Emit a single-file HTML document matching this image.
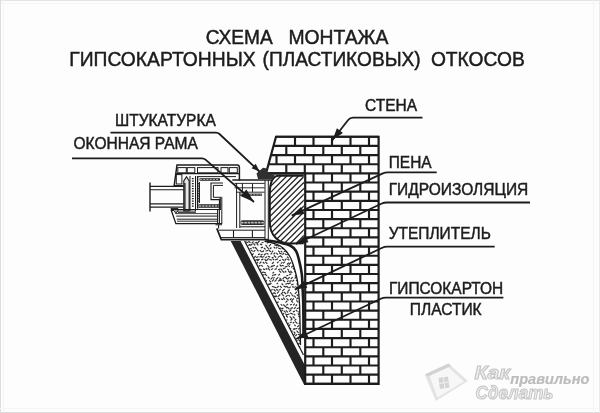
<!DOCTYPE html>
<html><head><meta charset="utf-8"><style>
html,body{margin:0;padding:0;background:#fdfdfd;}
body{width:600px;height:413px;overflow:hidden;font-family:"Liberation Sans",sans-serif;}
svg{display:block;} svg{filter:grayscale(1) blur(0.3px);}
</style></head><body>
<svg width="600" height="413" viewBox="0 0 600 413" font-family="Liberation Sans, sans-serif"><rect width="600" height="413" fill="#fdfdfd"/><rect x="0" y="0" width="600" height="1" fill="#e4e4e4"/><rect x="0" y="3" width="600" height="1" fill="#f5f5f5"/><rect x="0" y="0" width="1" height="413" fill="#dedede"/><rect x="3" y="0" width="1" height="413" fill="#f4f4f4"/><rect x="0" y="412" width="600" height="1" fill="#dcdcdc"/><rect x="0" y="408" width="600" height="1" fill="#f6f6f6"/><rect x="593" y="0" width="1" height="413" fill="#f3f3f3"/><rect x="599" y="0" width="1" height="413" fill="#ebebeb"/><g><path d="M424.8,374.4 L448.5,363.5 L467.9,381 L435.8,401 Z" fill="#e3e3e3"/><path d="M424.8,374.4 L448.5,363.5 L451,366 L428.5,376.5 Z" fill="#d2d2d2"/><path d="M429.5,376 L448.5,367.2 L464,381.5 L437.5,397.5 Z" fill="#f7f7f7"/><path d="M438.5,378 L448,376.5 L449.5,387.5 L440,389 Z" fill="#d4d4d4"/><path d="M443.3,377.2 L444.8,388.2 M439.2,383.5 L448.8,382" stroke="#f2f2f2" stroke-width="1"/><text x="474.43" y="379.30" font-size="18.5" font-weight="bold" font-style="italic" textLength="35.71" lengthAdjust="spacingAndGlyphs" fill="#eeeeee" stroke="#c4c4c4">Как</text><text x="510.25" y="384.40" font-size="14" font-weight="bold" font-style="italic" textLength="79.12" lengthAdjust="spacingAndGlyphs" fill="#bcbcbc" stroke="#bcbcbc" stroke-width="0.2" >правильно</text><text x="475.57" y="398.50" font-size="18.5" font-weight="bold" font-style="italic" textLength="77.94" lengthAdjust="spacingAndGlyphs" fill="#eeeeee" stroke="#c4c4c4">Сделать</text></g><clipPath id="insclip"><path d="M245,240.9 C248.33,240.92 259.83,240.48 265,241 C270.17,241.52 273.00,242.83 276,244 C279.00,245.17 280.83,246.17 283,248 C285.17,249.83 287.33,252.33 289,255 C290.67,257.67 291.58,259.60 293,264 C294.42,268.40 296.40,274.57 297.5,281.4 C298.60,288.23 299.10,294.07 299.6,305 C300.10,315.93 300.35,340.00 300.5,347 L299.5,348 Z"/></clipPath><path d="M238.2,235.6l-1.7,1.7M240.0,235.0l1.9,0.7M243.3,234.6l1.6,1.6M248.1,234.4l-1.9,1.9M248.2,235.4l2.2,2.2M254.0,235.1l-1.9,1.9M255.2,234.9l1.9,1.9M258.2,235.0l1.9,1.9M261.7,234.9l1.8,1.8M265.6,235.1l-2.0,2.0M266.7,235.7l2.0,2.0M271.6,235.8l-1.6,1.6M275.1,236.0l-2.0,0.7M276.1,235.1l2.0,2.0M278.9,235.1l2.2,2.2M284.2,235.8l-2.2,0.8M287.4,234.9l-2.3,0.8M290.0,234.6l-1.9,1.9M292.9,236.1l-2.2,0.8M295.6,234.6l-1.8,1.8M296.8,235.4l2.2,0.8M240.5,237.5l-1.5,1.5M242.6,238.1l-1.6,1.6M243.9,239.1l2.2,0.8M253.0,239.0l-1.9,0.7M258.2,238.1l-1.8,1.8M260.8,237.8l-1.5,1.5M262.8,238.3l1.5,1.5M268.6,237.4l2.2,2.2M271.5,237.5l1.9,1.9M276.1,237.6l-1.8,1.8M280.0,238.1l-2.2,0.8M280.6,239.2l2.3,0.8M283.9,238.2l2.2,2.2M286.2,237.5l2.2,2.2M289.0,239.0l2.3,0.8M300.1,238.0l-2.0,2.0M301.8,237.8l2.3,2.3M303.9,239.1l3.0,1.1M244.7,241.0l-1.5,1.5M245.6,241.7l2.8,1.0M248.4,240.8l2.1,2.1M253.5,241.5l-1.8,1.8M257.0,242.2l-2.3,0.8M259.5,241.0l-2.3,2.3M263.5,242.3l-2.0,0.7M264.3,240.6l1.5,1.5M269.3,242.1l-2.6,1.0M271.7,240.6l-2.1,2.1M274.8,241.0l-2.1,2.1M275.7,240.8l2.2,2.2M279.4,241.6l2.4,0.9M282.3,241.9l2.5,0.9M286.7,241.5l-1.6,1.6M288.0,241.0l2.0,2.0M290.6,241.0l1.9,0.7M296.3,241.6l-1.9,1.9M296.7,241.0l3.0,1.1M299.7,242.2l2.5,0.9M303.5,240.5l2.2,2.2M240.2,243.6l-1.5,1.5M241.4,243.7l1.6,1.6M246.6,244.2l-2.6,0.9M249.9,244.1l-1.6,1.6M252.4,244.4l-2.8,1.0M253.4,243.5l1.8,1.8M256.5,243.4l1.9,1.9M260.0,244.1l2.2,0.8M265.4,244.8l1.5,1.5M271.0,244.2l-2.1,2.1M274.1,244.7l2.9,1.1M277.0,244.5l2.1,2.1M280.9,243.4l2.0,2.0M286.4,244.2l1.8,1.8M294.5,244.9l-1.5,1.5M300.0,243.9l-1.6,1.6M301.8,243.8l1.8,1.8M304.1,244.3l1.4,1.4M241.6,247.3l-2.2,2.2M245.5,247.7l-1.9,1.9M247.9,247.3l-2.2,2.2M251.7,248.3l-2.0,0.7M252.6,246.9l1.5,1.5M254.8,247.0l2.0,2.0M263.0,247.1l-2.2,0.8M263.9,247.8l1.7,1.7M266.6,246.7l2.2,2.2M271.4,247.5l-1.5,1.5M273.7,246.8l1.5,1.5M277.4,246.9l-1.4,1.4M278.1,248.0l2.8,1.0M281.6,248.3l2.3,0.8M286.8,248.0l-2.6,0.9M288.0,248.0l2.6,0.9M290.7,247.9l2.7,1.0M296.8,247.8l-2.5,0.9M298.1,247.4l-1.5,1.5M305.1,247.2l-1.9,1.9M240.3,249.6l-1.6,1.6M247.9,250.3l2.0,0.7M251.1,249.8l1.6,1.6M255.3,250.1l-1.8,1.8M256.7,249.4l1.9,1.9M259.8,250.2l2.0,2.0M263.9,250.5l-1.5,1.5M268.0,250.3l-2.4,0.9M268.4,249.6l2.3,2.3M273.2,250.7l-1.4,1.4M278.2,250.7l1.7,1.7M280.8,250.9l1.5,1.5M286.3,250.8l-2.5,0.9M287.9,250.8l-1.7,1.7M290.8,249.9l-1.7,1.7M293.1,250.8l1.4,1.4M298.1,249.7l-2.0,2.0M300.9,249.5l-1.7,1.7M304.0,250.4l1.7,1.7M238.5,253.2l-1.6,1.6M239.9,252.3l2.1,2.1M245.7,253.0l-2.2,2.2M245.8,253.1l2.2,2.2M249.7,253.2l1.8,1.8M253.6,253.5l-1.7,1.7M260.1,253.8l-2.1,0.8M262.6,254.2l-2.1,0.8M265.7,253.5l-1.8,1.8M266.4,253.4l2.1,0.8M272.3,252.7l-1.7,1.7M275.2,252.7l-1.7,1.7M276.2,252.9l1.8,1.8M279.2,253.1l2.6,0.9M284.1,253.0l-1.7,1.7M285.1,253.6l1.5,1.5M287.2,254.2l2.4,0.9M295.8,252.3l-2.2,2.2M296.0,253.9l3.0,1.1M302.1,252.6l-1.5,1.5M302.7,253.2l2.9,1.1M238.5,256.4l1.9,1.9M241.7,255.9l1.9,1.9M244.6,257.4l1.9,0.7M248.1,256.0l2.0,2.0M252.1,256.5l-1.4,1.4M255.7,256.0l-1.8,1.8M258.5,256.6l-2.4,0.9M261.9,256.1l-2.4,0.9M264.3,256.5l-2.8,1.0M266.9,256.6l-1.6,1.6M267.8,256.2l2.4,0.9M273.6,257.2l-1.9,0.7M273.9,255.3l2.2,2.2M279.7,255.8l-1.8,1.8M280.2,255.5l2.2,2.2M287.0,256.6l1.7,1.7M292.5,256.1l1.4,1.4M300.7,255.9l-1.7,1.7M301.7,256.1l1.5,1.5M236.9,259.2l2.0,2.0M241.7,258.8l-2.7,1.0M243.5,259.7l1.6,1.6M246.8,258.5l1.7,1.7M250.8,258.9l-2.2,0.8M253.9,259.9l-2.9,1.1M258.1,259.3l-3.0,1.1M259.5,258.9l-2.1,2.1M263.4,259.1l-2.2,0.8M264.5,259.2l1.8,1.8M268.7,258.4l-2.1,2.1M269.3,259.4l2.5,0.9M272.6,258.6l1.6,1.6M278.0,258.9l-3.0,1.1M281.1,260.0l-2.1,0.8M282.3,259.0l1.7,1.7M286.5,258.7l-1.8,1.8M287.3,259.3l2.1,0.8M291.4,259.8l2.1,0.8M298.7,258.8l-2.2,2.2M299.6,259.3l1.6,1.6M304.9,259.4l-2.2,2.2M238.7,261.3l2.1,2.1M243.4,262.3l-2.6,0.9M246.0,262.2l-2.3,2.3M250.4,262.3l1.8,1.8M253.5,261.3l2.1,2.1M258.0,262.1l-2.0,2.0M261.4,261.7l-2.0,2.0M262.8,262.0l1.7,1.7M265.4,261.9l2.0,2.0M273.8,262.0l-1.8,1.8M278.6,261.7l-1.5,1.5M282.4,262.1l-1.5,1.5M284.9,261.7l-1.7,1.7M288.8,262.7l-1.8,1.8M290.9,262.5l-2.1,2.1M291.9,263.0l2.9,1.1M298.0,262.2l-2.0,2.0M300.1,261.5l-2.1,2.1M301.3,262.1l2.1,0.7M238.8,265.6l-1.4,1.4M240.4,265.3l1.5,1.5M242.7,264.7l2.0,2.0M246.0,264.4l1.8,1.8M250.8,265.3l-1.8,1.8M253.9,264.3l-2.1,2.1M255.2,265.3l1.5,1.5M260.6,265.4l-2.0,0.7M261.3,265.1l1.5,1.5M267.2,265.3l2.3,2.3M272.3,265.6l-1.7,1.7M274.9,265.3l-2.9,1.1M278.0,265.7l-1.7,1.7M279.7,264.7l1.8,1.8M281.7,265.2l2.1,0.8M287.7,266.0l-2.9,1.1M288.3,265.4l1.5,1.5M293.1,265.6l-1.9,1.9M293.6,265.9l2.6,0.9M296.9,265.4l1.9,1.9M302.6,264.7l-1.9,1.9M303.7,265.1l2.0,2.0M238.8,267.6l2.0,2.0M243.7,269.1l-2.4,0.9M245.8,267.4l-1.9,1.9M247.5,267.9l1.5,1.5M250.3,269.1l2.0,0.7M253.0,267.4l2.2,2.2M258.8,268.3l-2.0,0.7M260.2,268.8l1.5,1.5M262.9,268.9l2.4,0.9M265.8,268.1l1.5,1.5M267.9,268.1l2.2,2.2M272.8,268.4l-1.5,1.5M276.8,268.6l-2.3,0.9M280.0,269.0l-1.9,0.7M280.5,268.7l1.7,1.7M285.3,268.0l-2.4,0.9M287.3,268.8l1.5,1.5M292.8,268.1l1.6,1.6M294.7,269.1l3.0,1.1M301.2,268.3l1.9,0.7M306.3,268.5l-2.0,2.0M239.4,271.7l-1.7,1.7M243.3,271.8l2.4,0.9M251.6,272.0l-2.1,0.8M252.6,271.1l2.0,0.7M254.6,271.7l1.9,1.9M258.5,271.5l1.4,1.4M263.5,272.0l-1.9,0.7M263.0,272.0l2.9,1.0M274.1,271.8l-1.6,1.6M279.1,270.6l2.1,2.1M282.2,270.7l2.1,2.1M284.9,271.0l1.4,1.4M288.3,271.0l2.2,2.2M290.4,270.9l1.9,1.9M294.4,271.2l1.7,1.7M296.8,271.0l1.9,1.9M300.6,270.3l2.1,2.1M305.5,271.7l-2.0,2.0M239.0,274.3l2.2,0.8M243.1,275.2l-2.1,0.8M246.8,274.4l-2.1,2.1M248.4,274.8l1.5,1.5M251.9,273.5l-2.2,2.2M253.1,275.1l2.4,0.9M258.4,274.5l-1.5,1.5M259.4,273.7l1.7,1.7M264.5,274.5l-2.5,0.9M265.0,274.0l1.9,1.9M273.7,274.6l-1.6,1.6M276.2,274.4l-2.1,0.7M279.9,273.9l-1.6,1.6M288.3,275.3l-2.0,0.7M291.3,274.0l-2.2,0.8M296.7,274.6l-1.8,1.8M300.6,274.0l-1.8,1.8M300.5,274.1l2.7,1.0M236.5,277.1l2.7,1.0M242.8,277.8l-2.7,1.0M244.6,277.4l-1.8,1.8M251.2,276.6l-2.0,2.0M254.2,277.3l-1.4,1.4M256.8,276.2l-2.2,2.2M258.3,276.8l1.4,1.4M262.4,277.2l-1.9,1.9M265.5,278.0l-2.4,0.9M267.7,276.7l1.8,1.8M272.5,277.4l-1.9,1.9M274.7,277.5l-1.9,0.7M278.3,277.1l-2.2,2.2M279.5,277.8l1.6,1.6M284.8,276.8l-2.3,2.3M285.1,276.9l2.1,2.1M289.6,277.2l-2.1,2.1M292.6,277.2l-1.8,1.8M296.3,276.8l-1.7,1.7M297.1,276.9l2.2,2.2M300.4,276.9l1.7,1.7M302.9,277.3l2.6,0.9M244.4,280.0l2.9,1.1M250.0,280.1l-2.5,0.9M250.1,279.7l1.6,1.6M254.9,280.7l-1.7,1.7M258.7,280.7l-1.9,1.9M259.6,280.1l2.8,1.0M263.0,280.9l2.0,0.7M265.3,279.7l1.6,1.6M269.2,280.4l1.8,1.8M273.9,279.4l-1.9,1.9M276.5,279.7l-2.0,2.0M280.0,279.5l-1.8,1.8M282.1,279.9l-2.6,0.9M282.9,279.9l2.1,2.1M288.5,280.5l-1.4,1.4M291.6,280.6l-2.3,0.8M294.1,279.8l-1.7,1.7M296.1,280.0l1.7,1.7M298.2,279.5l2.2,2.2M301.4,279.9l1.7,1.7M307.2,280.5l-2.0,0.7M238.3,282.8l-1.9,1.9M242.0,283.3l-2.1,2.1M242.7,283.6l2.9,1.1M248.9,282.9l-2.7,1.0M251.6,283.0l-2.4,0.9M251.6,283.7l1.8,1.8M257.1,282.6l-2.1,2.1M259.1,283.4l-1.4,1.4M261.1,283.5l1.8,1.8M266.5,283.0l-1.9,1.9M269.6,283.3l-1.9,1.9M271.4,283.0l-1.9,1.9M278.0,282.8l-1.4,1.4M281.6,283.5l1.5,1.5M288.0,283.3l-2.7,1.0M290.7,282.9l-2.8,1.0M293.5,284.1l-2.4,0.9M296.6,283.5l1.4,1.4M299.9,283.3l1.7,1.7M238.3,286.8l1.9,0.7M244.2,286.1l-2.1,0.8M249.8,286.0l-1.8,1.8M250.1,286.8l2.3,0.8M253.5,287.3l2.3,0.8M256.2,287.2l2.8,1.0M261.6,286.6l-2.0,2.0M262.3,285.7l2.0,2.0M265.2,286.7l1.7,1.7M271.8,286.3l2.7,1.0M274.1,287.0l2.4,0.9M278.7,286.0l-1.7,1.7M279.9,285.9l1.9,1.9M283.5,286.1l2.8,1.0M286.4,285.9l2.2,2.2M290.7,286.6l-1.6,1.6M292.1,286.6l2.5,0.9M295.4,286.4l2.2,2.2M300.1,286.1l-2.1,2.1M300.6,286.1l2.6,0.9M236.4,289.9l2.5,0.9M242.5,289.6l-2.1,2.1M243.8,289.0l1.7,1.7M246.6,289.0l1.9,1.9M255.3,289.8l2.6,0.9M258.3,289.7l1.9,1.9M263.3,289.0l-1.6,1.6M265.4,289.3l-2.1,0.8M267.0,288.8l2.9,1.1M272.7,289.5l-2.7,1.0M273.6,289.2l2.1,2.1M276.0,289.5l2.4,0.9M280.7,288.8l-1.5,1.5M284.6,288.9l-2.2,2.2M289.7,289.5l-2.2,2.2M299.7,288.7l-2.2,2.2M299.9,289.6l1.8,1.8M304.9,289.9l-2.3,0.8M239.9,292.6l-1.9,1.9M242.6,292.3l-1.6,1.6M245.8,292.1l-1.6,1.6M249.0,292.4l-2.2,2.2M252.9,291.5l-1.9,1.9M253.3,291.7l1.8,1.8M258.9,291.6l-1.7,1.7M259.9,292.2l1.5,1.5M261.8,293.1l2.0,0.7M266.7,292.0l-1.7,1.7M269.8,292.6l-1.5,1.5M273.9,292.6l-1.9,1.9M274.2,292.5l1.6,1.6M279.0,291.4l-1.9,1.9M283.1,292.0l-2.1,2.1M283.9,291.9l2.1,2.1M288.5,291.9l-1.5,1.5M290.1,292.4l1.4,1.4M297.0,291.7l-2.2,2.2M299.0,292.1l2.1,2.1M304.4,291.9l2.2,2.2M236.6,295.1l2.0,0.7M241.4,295.7l-1.5,1.5M243.2,294.6l2.2,2.2M248.3,295.8l-2.5,0.9M248.4,294.5l2.0,2.0M251.1,295.0l2.7,1.0M259.6,295.0l-2.1,2.1M262.4,295.1l-2.2,2.2M263.6,295.3l2.8,1.0M270.6,295.4l1.8,1.8M273.2,295.9l2.8,1.0M275.7,295.4l1.7,1.7M280.3,294.5l-2.0,2.0M282.1,294.4l1.8,1.8M287.6,295.1l-2.1,2.1M288.5,295.0l1.4,1.4M291.5,294.4l1.9,1.9M294.0,295.7l1.9,1.9M296.7,294.5l1.7,1.7M240.8,298.0l2.5,0.9M244.5,297.6l2.2,2.2M250.2,298.7l-2.5,0.9M252.7,298.4l-2.3,0.8M258.1,297.7l-1.8,1.8M259.9,298.4l2.5,0.9M267.1,297.8l-1.7,1.7M271.0,297.4l2.1,2.1M278.0,297.9l1.9,1.9M281.1,298.9l2.1,0.8M283.0,297.6l2.0,2.0M286.5,298.3l2.1,2.1M291.5,298.4l-1.6,1.6M293.9,298.3l-2.2,2.2M298.1,297.6l-1.8,1.8M298.6,297.8l2.2,2.2M303.1,298.0l-1.7,1.7M304.1,299.0l2.3,0.8M238.6,301.2l-1.7,1.7M242.1,300.5l-1.9,1.9M246.2,301.1l2.8,1.0M248.9,301.8l1.4,1.4M251.7,302.2l2.8,1.0M254.6,301.5l2.7,1.0M260.8,301.8l-2.3,0.8M261.1,301.3l1.8,1.8M269.1,300.8l-2.2,2.2M269.9,302.0l2.3,0.8M272.5,300.9l1.7,1.7M278.7,301.9l-2.9,1.1M287.4,300.7l-1.9,1.9M291.2,300.8l1.9,1.9M296.3,300.3l2.0,2.0M299.8,302.1l1.9,0.7M304.5,302.0l-1.9,0.7M241.0,304.0l-2.9,1.1M241.0,305.0l2.0,0.7M245.4,304.2l1.5,1.5M248.9,303.3l-2.1,2.1M250.4,303.9l1.5,1.5M256.1,304.8l-2.0,0.7M257.8,303.6l-1.9,1.9M259.8,303.8l1.8,1.8M261.8,305.0l2.8,1.0M265.3,304.7l1.8,1.8M274.0,304.2l-2.3,0.8M277.1,304.2l-2.4,0.9M276.9,304.7l1.7,1.7M280.8,304.1l1.5,1.5M283.3,304.5l2.2,2.2M288.0,303.8l-1.6,1.6M291.9,304.3l-1.9,0.7M294.8,303.7l-1.6,1.6M297.1,304.5l-1.5,1.5M299.1,304.6l2.1,0.8M304.1,304.7l-2.0,2.0M306.3,303.7l-1.9,1.9M239.1,307.5l-1.5,1.5M240.4,306.3l2.0,2.0M244.7,306.6l-1.7,1.7M248.1,306.6l-1.7,1.7M249.3,306.5l2.1,2.1M251.7,307.5l1.6,1.6M257.0,307.1l-2.1,2.1M259.7,306.7l-2.2,2.2M263.0,307.8l-2.3,0.8M266.0,307.4l-2.3,2.3M267.8,307.6l1.5,1.5M270.3,307.0l1.8,1.8M274.2,306.9l-1.7,1.7M277.6,307.1l-1.9,1.9M281.1,307.6l-2.0,2.0M283.5,308.1l-2.2,0.8M285.1,306.2l2.2,2.2M287.4,307.2l2.1,2.1M292.9,307.6l-2.6,0.9M295.7,307.1l-1.8,1.8M299.3,307.8l-2.6,0.9M302.8,307.0l-2.5,0.9M303.3,307.0l2.2,2.2M240.8,309.9l-2.2,2.2M241.5,309.7l1.6,1.6M246.6,310.5l-1.5,1.5M249.5,309.8l-1.4,1.4M253.1,310.1l-2.2,0.8M253.0,309.9l1.9,1.9M261.4,310.4l-1.9,1.9M261.8,310.0l2.0,2.0M265.1,309.9l1.7,1.7M273.2,309.6l-1.8,1.8M275.3,310.1l1.8,1.8M277.5,309.3l2.2,2.2M282.8,309.8l-1.8,1.8M283.7,310.6l2.0,2.0M285.9,310.4l2.0,2.0M291.3,309.5l-2.1,2.1M294.9,311.1l-2.1,0.8M295.8,309.9l1.7,1.7M300.3,310.5l-1.9,1.9M302.2,310.8l1.5,1.5M236.9,312.9l2.2,2.2M240.2,312.5l1.9,1.9M245.6,312.5l-1.8,1.8M247.5,312.9l-1.8,1.8M249.0,313.4l2.8,1.0M254.3,314.2l-1.9,0.7M255.5,313.6l2.0,2.0M258.7,313.5l1.4,1.4M262.5,313.2l-1.5,1.5M278.8,313.2l2.0,2.0M284.1,313.1l-2.2,2.2M285.3,313.6l1.9,1.9M289.6,313.8l-2.4,0.9M290.3,313.1l2.9,1.1M293.8,313.8l1.5,1.5M297.7,313.4l1.6,1.6M302.1,313.7l-2.2,0.8M303.0,314.1l2.7,1.0M240.9,315.5l-2.0,2.0M241.5,316.0l2.7,1.0M247.9,316.2l1.8,1.8M255.0,316.4l-2.1,2.1M257.6,316.6l-1.5,1.5M262.4,316.5l2.0,2.0M268.0,316.6l-1.9,1.9M271.3,316.8l-2.8,1.0M271.6,316.6l1.5,1.5M277.2,315.7l2.1,2.1M281.1,316.9l2.0,0.7M284.8,316.7l-2.0,2.0M286.0,315.7l1.8,1.8M289.7,316.4l2.2,2.2M292.8,316.5l1.9,1.9M298.4,315.8l2.3,2.3M301.9,316.5l1.5,1.5M306.9,315.8l-2.2,2.2M236.6,319.6l2.5,0.9M241.3,318.6l-1.9,1.9M244.8,319.8l-1.7,1.7M245.8,318.4l1.9,1.9M248.5,319.9l1.9,0.7M253.0,319.1l1.5,1.5M255.2,318.8l3.0,1.1M258.3,319.1l2.2,2.2M261.4,318.6l2.1,2.1M265.7,319.4l-2.0,2.0M266.2,320.0l2.8,1.0M270.0,319.0l1.5,1.5M276.3,319.6l2.2,2.2M281.2,319.2l-1.4,1.4M282.2,319.6l2.8,1.0M287.4,319.7l-2.2,0.8M292.4,318.6l-1.9,1.9M296.2,319.0l-1.7,1.7M301.4,319.7l-1.7,1.7M304.6,318.4l-1.9,1.9M240.4,322.7l-1.6,1.6M242.7,321.7l-1.6,1.6M245.0,321.7l2.1,2.1M249.5,321.5l-1.6,1.6M250.5,322.6l1.6,1.6M255.9,321.6l-1.9,1.9M259.3,322.0l1.9,1.9M262.9,321.2l2.2,2.2M267.4,322.6l-3.0,1.1M268.1,321.8l1.5,1.5M271.4,321.9l1.7,1.7M275.1,322.7l2.1,0.7M277.7,323.0l2.2,0.8M280.6,322.3l2.0,2.0M284.2,321.6l1.9,1.9M288.7,322.9l-1.5,1.5M291.9,322.0l-2.1,0.8M294.3,321.8l-1.5,1.5M295.2,321.4l2.2,2.2M301.3,322.5l-2.8,1.0M304.3,322.6l-2.2,0.8M304.3,321.5l2.2,2.2M237.6,324.6l1.5,1.5M241.8,324.6l-2.0,2.0M245.3,324.5l-2.2,2.2M245.6,324.8l2.0,2.0M250.7,325.7l-2.0,2.0M251.6,326.1l2.8,1.0M256.8,324.7l-2.1,2.1M260.0,325.4l-1.6,1.6M261.4,326.1l1.9,0.7M264.5,324.5l2.1,2.1M272.5,325.5l2.1,2.1M276.6,324.7l1.5,1.5M281.0,325.8l-2.3,0.8M284.8,324.3l-2.2,2.2M286.7,325.5l-2.7,1.0M290.3,324.4l-2.0,2.0M294.2,324.7l1.5,1.5M298.9,325.4l-1.6,1.6M300.5,325.7l1.9,1.9M305.7,324.5l-2.1,2.1M240.2,328.0l-2.1,0.8M241.9,329.3l1.9,0.7M244.7,328.1l2.0,2.0M250.4,328.9l-2.3,0.9M252.2,328.8l-1.7,1.7M256.0,328.5l-2.2,2.2M259.1,327.7l-1.9,1.9M262.1,328.1l-2.3,2.3M262.7,327.9l2.8,1.0M265.4,328.2l2.0,2.0M268.9,329.2l1.9,0.7M271.1,329.0l2.5,0.9M275.7,328.8l-1.7,1.7M279.6,328.7l-2.6,1.0M283.0,327.6l-2.2,2.2M285.8,328.7l-2.3,0.8M288.9,328.1l2.3,0.8M295.0,328.6l-2.1,0.8M297.3,328.3l-2.9,1.0M299.8,327.9l-1.5,1.5M301.5,327.7l2.0,2.0M305.3,328.4l1.7,1.7M238.6,331.0l-2.0,2.0M241.9,330.8l-1.7,1.7M242.6,331.0l2.1,2.1M245.8,331.6l1.5,1.5M248.9,331.1l1.6,1.6M253.7,330.8l-2.1,2.1M255.2,331.8l2.8,1.0M257.7,330.9l2.0,2.0M261.0,331.3l1.7,1.7M268.7,331.1l-2.5,0.9M274.9,331.1l-1.7,1.7M279.3,331.9l1.5,1.5M283.8,331.7l-1.8,1.8M287.1,330.5l-1.5,1.5M289.2,331.4l-1.8,1.8M292.5,330.6l-2.1,2.1M293.7,331.6l1.5,1.5M296.5,330.7l2.1,2.1M305.3,332.3l-2.4,0.9M240.3,334.7l-2.0,0.7M241.1,334.3l2.2,0.8M244.6,333.9l1.9,1.9M247.5,334.1l1.6,1.6M250.1,334.3l1.6,1.6M255.8,333.5l-2.0,2.0M261.7,333.3l-2.2,2.2M263.2,335.1l2.0,0.7M267.3,334.2l-2.1,2.1M268.1,334.9l2.6,0.9M273.1,334.5l-1.5,1.5M274.4,333.3l2.1,2.1M279.9,334.7l-2.8,1.0M280.5,333.5l2.1,2.1M285.0,334.0l-2.1,0.8M286.8,333.8l1.8,1.8M295.2,333.4l-2.2,2.2M297.0,334.3l-1.7,1.7M297.9,334.2l2.7,1.0M303.7,334.9l-1.5,1.5M304.2,333.9l1.7,1.7M238.9,338.0l-2.0,0.7M241.5,337.4l-2.3,0.8M245.7,336.9l-2.3,2.3M246.7,337.8l1.4,1.4M252.1,337.0l2.1,2.1M257.3,337.5l-1.8,1.8M261.4,337.9l1.4,1.4M265.4,336.8l-2.0,2.0M268.7,336.6l-1.7,1.7M269.9,337.3l2.0,2.0M274.9,336.4l-1.9,1.9M276.4,337.0l1.8,1.8M279.4,336.7l1.7,1.7M282.6,337.7l1.7,1.7M286.3,336.8l-1.6,1.6M287.5,337.0l1.9,1.9M290.7,338.3l1.9,0.7M293.4,337.3l2.1,0.8M300.9,337.3l1.4,1.4M303.3,337.0l2.1,0.8M238.3,340.0l2.3,2.3M240.5,340.6l2.9,1.0M244.1,340.9l2.8,1.0M248.2,339.4l1.9,1.9M252.3,340.0l-2.1,0.8M252.4,341.1l2.9,1.1M258.6,339.8l-1.4,1.4M261.1,339.7l-1.5,1.5M264.8,339.4l-2.0,2.0M267.3,340.0l-1.4,1.4M267.8,340.7l2.6,0.9M273.6,340.0l-1.5,1.5M276.8,339.5l-2.0,2.0M277.8,340.4l2.2,2.2M280.3,340.8l2.1,0.8M289.0,341.1l-3.0,1.1M290.0,339.6l2.1,2.1M292.4,341.2l2.1,0.8M297.7,340.5l-1.9,0.7M298.3,339.4l2.1,2.1M302.1,339.9l2.0,2.0M303.9,339.5l1.8,1.8M238.6,342.6l-1.8,1.8M240.6,343.3l1.7,1.7M242.4,343.4l2.3,2.3M245.1,343.7l2.8,1.0M250.6,342.6l-1.7,1.7M252.1,343.5l2.2,2.2M257.4,343.6l-1.7,1.7M259.2,343.6l-1.7,1.7M263.3,342.8l-1.8,1.8M264.2,343.2l2.2,2.2M269.7,343.1l-2.2,2.2M269.5,343.3l2.3,0.8M275.1,343.6l-2.6,0.9M278.0,344.2l-2.4,0.9M280.8,343.4l-2.0,0.7M284.4,342.3l-2.0,2.0M287.3,343.0l-1.4,1.4M288.5,343.1l2.5,0.9M290.7,343.4l1.9,1.9M293.7,343.9l3.0,1.1M299.6,342.9l-1.8,1.8M302.1,343.6l2.4,0.9M242.1,345.8l1.6,1.6M245.2,346.4l1.9,1.9M249.3,347.2l-2.1,0.8M250.3,346.2l2.2,2.2M254.3,345.8l1.7,1.7M256.8,346.8l2.4,0.9M259.5,346.3l1.5,1.5M264.1,346.4l-2.3,0.9M267.1,346.3l-1.9,1.9M269.2,346.4l1.4,1.4M271.3,345.6l1.6,1.6M274.1,346.9l2.6,1.0M277.3,346.5l1.6,1.6M280.3,346.6l2.1,2.1M283.6,345.9l1.8,1.8M291.5,346.3l-1.9,1.9M296.1,345.4l2.0,2.0M298.3,346.4l2.6,1.0M301.7,346.5l2.1,2.1M306.8,346.0l-2.0,2.0" clip-path="url(#insclip)" stroke="#303030" stroke-width="1.2" fill="none"/><path d="M265,241 C266.83,241.50 273.00,242.83 276,244 C279.00,245.17 280.83,246.17 283,248 C285.17,249.83 287.33,252.33 289,255 C290.67,257.67 291.58,259.60 293,264 C294.42,268.40 296.40,274.57 297.5,281.4 C298.60,288.23 299.25,301.07 299.6,305 L300.5,345" fill="none" stroke="#1c1c1c" stroke-width="1.3"/><path d="M230.7,240.9 L240.6,240.9 L305,365.5 L305,384.5 L304,384.5 Z" fill="#242424"/><path d="M244.6,240.9 L303.5,355" stroke="#1c1c1c" stroke-width="1.2"/><path d="M266.4,240.4 C268.67,240.77 276.03,241.75 280,242.6 C283.97,243.45 287.53,244.10 290.2,245.5 C292.87,246.90 294.55,248.65 296,251 C297.45,253.35 297.93,255.75 298.9,259.6 C299.87,263.45 301.18,269.25 301.8,274.1 C302.42,278.95 302.35,283.55 302.6,288.7 C302.85,293.85 303.15,296.78 303.3,305 C303.45,313.22 303.47,332.50 303.5,338" fill="none" stroke="#1c1c1c" stroke-width="2.6"/><clipPath id="foamclip"><path d="M279,175.8 L301.5,175.8 Q303.8,175.8 303.8,178 L303.8,243.2 L290,243.6 C279,243.5 269.8,236 269.8,222 L269.8,194 C269.8,182 273,175.8 279,175.8 Z"/></clipPath><g clip-path="url(#foamclip)" stroke="#1c1c1c" stroke-width="1.25"><line x1="142.0" y1="250" x2="222.0" y2="170"/><line x1="147.9" y1="250" x2="227.9" y2="170"/><line x1="153.8" y1="250" x2="233.8" y2="170"/><line x1="159.7" y1="250" x2="239.7" y2="170"/><line x1="165.6" y1="250" x2="245.6" y2="170"/><line x1="171.5" y1="250" x2="251.5" y2="170"/><line x1="177.4" y1="250" x2="257.4" y2="170"/><line x1="183.3" y1="250" x2="263.3" y2="170"/><line x1="189.2" y1="250" x2="269.2" y2="170"/><line x1="195.1" y1="250" x2="275.1" y2="170"/><line x1="201.0" y1="250" x2="281.0" y2="170"/><line x1="206.9" y1="250" x2="286.9" y2="170"/><line x1="212.8" y1="250" x2="292.8" y2="170"/><line x1="218.7" y1="250" x2="298.7" y2="170"/><line x1="224.6" y1="250" x2="304.6" y2="170"/><line x1="230.5" y1="250" x2="310.5" y2="170"/><line x1="236.4" y1="250" x2="316.4" y2="170"/><line x1="242.3" y1="250" x2="322.3" y2="170"/><line x1="248.2" y1="250" x2="328.2" y2="170"/><line x1="254.1" y1="250" x2="334.1" y2="170"/><line x1="260.0" y1="250" x2="340.0" y2="170"/><line x1="265.9" y1="250" x2="345.9" y2="170"/><line x1="271.8" y1="250" x2="351.8" y2="170"/><line x1="277.7" y1="250" x2="357.7" y2="170"/><line x1="283.6" y1="250" x2="363.6" y2="170"/><line x1="289.5" y1="250" x2="369.5" y2="170"/><line x1="295.4" y1="250" x2="375.4" y2="170"/><line x1="301.3" y1="250" x2="381.3" y2="170"/><line x1="307.2" y1="250" x2="387.2" y2="170"/><line x1="313.1" y1="250" x2="393.1" y2="170"/><line x1="319.0" y1="250" x2="399.0" y2="170"/><line x1="324.9" y1="250" x2="404.9" y2="170"/><line x1="330.8" y1="250" x2="410.8" y2="170"/><line x1="336.7" y1="250" x2="416.7" y2="170"/><line x1="342.6" y1="250" x2="422.6" y2="170"/><line x1="348.5" y1="250" x2="428.5" y2="170"/><line x1="354.4" y1="250" x2="434.4" y2="170"/><line x1="360.3" y1="250" x2="440.3" y2="170"/><line x1="366.2" y1="250" x2="446.2" y2="170"/><line x1="372.1" y1="250" x2="452.1" y2="170"/><line x1="378.0" y1="250" x2="458.0" y2="170"/><line x1="383.9" y1="250" x2="463.9" y2="170"/><line x1="389.8" y1="250" x2="469.8" y2="170"/><line x1="395.7" y1="250" x2="475.7" y2="170"/><line x1="401.6" y1="250" x2="481.6" y2="170"/><line x1="407.5" y1="250" x2="487.5" y2="170"/><line x1="413.4" y1="250" x2="493.4" y2="170"/><line x1="419.3" y1="250" x2="499.3" y2="170"/><line x1="425.2" y1="250" x2="505.2" y2="170"/><line x1="431.1" y1="250" x2="511.1" y2="170"/></g><path d="M303.8,175.8 L279,175.8 C273,175.8 269.8,182 269.8,194 L269.8,222 C269.8,236 279,243.5 290,243.6 L303.8,243.2" fill="none" stroke="#1c1c1c" stroke-width="2"/><g stroke="#1c1c1c" stroke-width="2.15" fill="none"><line x1="276.00" y1="136.75" x2="378.6" y2="136.75"/><line x1="273.50" y1="145.90" x2="378.6" y2="145.90"/><line x1="271.00" y1="155.05" x2="378.6" y2="155.05"/><line x1="268.50" y1="164.20" x2="378.6" y2="164.20"/><line x1="266.00" y1="173.35" x2="378.6" y2="173.35"/><line x1="305.20" y1="182.50" x2="378.6" y2="182.50"/><line x1="305.20" y1="191.65" x2="378.6" y2="191.65"/><line x1="305.20" y1="200.80" x2="378.6" y2="200.80"/><line x1="305.20" y1="209.95" x2="378.6" y2="209.95"/><line x1="305.20" y1="219.10" x2="378.6" y2="219.10"/><line x1="305.20" y1="228.25" x2="378.6" y2="228.25"/><line x1="305.20" y1="237.40" x2="378.6" y2="237.40"/><line x1="305.20" y1="246.55" x2="378.6" y2="246.55"/><line x1="305.20" y1="255.70" x2="378.6" y2="255.70"/><line x1="305.20" y1="264.85" x2="378.6" y2="264.85"/><line x1="305.20" y1="274.00" x2="378.6" y2="274.00"/><line x1="305.20" y1="283.15" x2="378.6" y2="283.15"/><line x1="305.20" y1="292.30" x2="378.6" y2="292.30"/><line x1="305.20" y1="301.45" x2="378.6" y2="301.45"/><line x1="305.20" y1="310.60" x2="378.6" y2="310.60"/><line x1="305.20" y1="319.75" x2="378.6" y2="319.75"/><line x1="305.20" y1="328.90" x2="378.6" y2="328.90"/><line x1="305.20" y1="338.05" x2="378.6" y2="338.05"/><line x1="305.20" y1="347.20" x2="378.6" y2="347.20"/><line x1="305.20" y1="356.35" x2="378.6" y2="356.35"/><line x1="305.20" y1="365.50" x2="378.6" y2="365.50"/><line x1="305.20" y1="374.65" x2="378.6" y2="374.65"/><line x1="305.20" y1="383.80" x2="378.6" y2="383.80"/><line x1="295.00" y1="136.75" x2="295.00" y2="145.90"/><line x1="313.50" y1="136.75" x2="313.50" y2="145.90"/><line x1="332.00" y1="136.75" x2="332.00" y2="145.90"/><line x1="350.50" y1="136.75" x2="350.50" y2="145.90"/><line x1="369.00" y1="136.75" x2="369.00" y2="145.90"/><line x1="286.30" y1="145.90" x2="286.30" y2="155.05"/><line x1="304.80" y1="145.90" x2="304.80" y2="155.05"/><line x1="323.30" y1="145.90" x2="323.30" y2="155.05"/><line x1="341.80" y1="145.90" x2="341.80" y2="155.05"/><line x1="360.30" y1="145.90" x2="360.30" y2="155.05"/><line x1="276.50" y1="155.05" x2="276.50" y2="164.20"/><line x1="295.00" y1="155.05" x2="295.00" y2="164.20"/><line x1="313.50" y1="155.05" x2="313.50" y2="164.20"/><line x1="332.00" y1="155.05" x2="332.00" y2="164.20"/><line x1="350.50" y1="155.05" x2="350.50" y2="164.20"/><line x1="369.00" y1="155.05" x2="369.00" y2="164.20"/><line x1="286.30" y1="164.20" x2="286.30" y2="173.35"/><line x1="304.80" y1="164.20" x2="304.80" y2="173.35"/><line x1="323.30" y1="164.20" x2="323.30" y2="173.35"/><line x1="341.80" y1="164.20" x2="341.80" y2="173.35"/><line x1="360.30" y1="164.20" x2="360.30" y2="173.35"/><line x1="313.50" y1="173.35" x2="313.50" y2="182.50"/><line x1="332.00" y1="173.35" x2="332.00" y2="182.50"/><line x1="350.50" y1="173.35" x2="350.50" y2="182.50"/><line x1="369.00" y1="173.35" x2="369.00" y2="182.50"/><line x1="323.30" y1="182.50" x2="323.30" y2="191.65"/><line x1="341.80" y1="182.50" x2="341.80" y2="191.65"/><line x1="360.30" y1="182.50" x2="360.30" y2="191.65"/><line x1="313.50" y1="191.65" x2="313.50" y2="200.80"/><line x1="332.00" y1="191.65" x2="332.00" y2="200.80"/><line x1="350.50" y1="191.65" x2="350.50" y2="200.80"/><line x1="369.00" y1="191.65" x2="369.00" y2="200.80"/><line x1="323.30" y1="200.80" x2="323.30" y2="209.95"/><line x1="341.80" y1="200.80" x2="341.80" y2="209.95"/><line x1="360.30" y1="200.80" x2="360.30" y2="209.95"/><line x1="313.50" y1="209.95" x2="313.50" y2="219.10"/><line x1="332.00" y1="209.95" x2="332.00" y2="219.10"/><line x1="350.50" y1="209.95" x2="350.50" y2="219.10"/><line x1="369.00" y1="209.95" x2="369.00" y2="219.10"/><line x1="323.30" y1="219.10" x2="323.30" y2="228.25"/><line x1="341.80" y1="219.10" x2="341.80" y2="228.25"/><line x1="360.30" y1="219.10" x2="360.30" y2="228.25"/><line x1="313.50" y1="228.25" x2="313.50" y2="237.40"/><line x1="332.00" y1="228.25" x2="332.00" y2="237.40"/><line x1="350.50" y1="228.25" x2="350.50" y2="237.40"/><line x1="369.00" y1="228.25" x2="369.00" y2="237.40"/><line x1="323.30" y1="237.40" x2="323.30" y2="246.55"/><line x1="341.80" y1="237.40" x2="341.80" y2="246.55"/><line x1="360.30" y1="237.40" x2="360.30" y2="246.55"/><line x1="313.50" y1="246.55" x2="313.50" y2="255.70"/><line x1="332.00" y1="246.55" x2="332.00" y2="255.70"/><line x1="350.50" y1="246.55" x2="350.50" y2="255.70"/><line x1="369.00" y1="246.55" x2="369.00" y2="255.70"/><line x1="323.30" y1="255.70" x2="323.30" y2="264.85"/><line x1="341.80" y1="255.70" x2="341.80" y2="264.85"/><line x1="360.30" y1="255.70" x2="360.30" y2="264.85"/><line x1="313.50" y1="264.85" x2="313.50" y2="274.00"/><line x1="332.00" y1="264.85" x2="332.00" y2="274.00"/><line x1="350.50" y1="264.85" x2="350.50" y2="274.00"/><line x1="369.00" y1="264.85" x2="369.00" y2="274.00"/><line x1="323.30" y1="274.00" x2="323.30" y2="283.15"/><line x1="341.80" y1="274.00" x2="341.80" y2="283.15"/><line x1="360.30" y1="274.00" x2="360.30" y2="283.15"/><line x1="313.50" y1="283.15" x2="313.50" y2="292.30"/><line x1="332.00" y1="283.15" x2="332.00" y2="292.30"/><line x1="350.50" y1="283.15" x2="350.50" y2="292.30"/><line x1="369.00" y1="283.15" x2="369.00" y2="292.30"/><line x1="323.30" y1="292.30" x2="323.30" y2="301.45"/><line x1="341.80" y1="292.30" x2="341.80" y2="301.45"/><line x1="360.30" y1="292.30" x2="360.30" y2="301.45"/><line x1="313.50" y1="301.45" x2="313.50" y2="310.60"/><line x1="332.00" y1="301.45" x2="332.00" y2="310.60"/><line x1="350.50" y1="301.45" x2="350.50" y2="310.60"/><line x1="369.00" y1="301.45" x2="369.00" y2="310.60"/><line x1="323.30" y1="310.60" x2="323.30" y2="319.75"/><line x1="341.80" y1="310.60" x2="341.80" y2="319.75"/><line x1="360.30" y1="310.60" x2="360.30" y2="319.75"/><line x1="313.50" y1="319.75" x2="313.50" y2="328.90"/><line x1="332.00" y1="319.75" x2="332.00" y2="328.90"/><line x1="350.50" y1="319.75" x2="350.50" y2="328.90"/><line x1="369.00" y1="319.75" x2="369.00" y2="328.90"/><line x1="323.30" y1="328.90" x2="323.30" y2="338.05"/><line x1="341.80" y1="328.90" x2="341.80" y2="338.05"/><line x1="360.30" y1="328.90" x2="360.30" y2="338.05"/><line x1="313.50" y1="338.05" x2="313.50" y2="347.20"/><line x1="332.00" y1="338.05" x2="332.00" y2="347.20"/><line x1="350.50" y1="338.05" x2="350.50" y2="347.20"/><line x1="369.00" y1="338.05" x2="369.00" y2="347.20"/><line x1="323.30" y1="347.20" x2="323.30" y2="356.35"/><line x1="341.80" y1="347.20" x2="341.80" y2="356.35"/><line x1="360.30" y1="347.20" x2="360.30" y2="356.35"/><line x1="313.50" y1="356.35" x2="313.50" y2="365.50"/><line x1="332.00" y1="356.35" x2="332.00" y2="365.50"/><line x1="350.50" y1="356.35" x2="350.50" y2="365.50"/><line x1="369.00" y1="356.35" x2="369.00" y2="365.50"/><line x1="323.30" y1="365.50" x2="323.30" y2="374.65"/><line x1="341.80" y1="365.50" x2="341.80" y2="374.65"/><line x1="360.30" y1="365.50" x2="360.30" y2="374.65"/><line x1="313.50" y1="374.65" x2="313.50" y2="383.80"/><line x1="332.00" y1="374.65" x2="332.00" y2="383.80"/><line x1="350.50" y1="374.65" x2="350.50" y2="383.80"/><line x1="369.00" y1="374.65" x2="369.00" y2="383.80"/><path d="M276.0,136.75 L378.6,136.75 L378.6,383.8 L305.2,383.8 L305.2,173.35 L266.0,173.35 Z" stroke-width="2.2" stroke-linejoin="miter"/></g><path d="M150,182.5 V211.5" fill="none" stroke="#1c1c1c" stroke-width="1.4"/><path d="M150,186.4 H184" fill="none" stroke="#1c1c1c" stroke-width="1.1"/><path d="M150,189.7 H184" fill="none" stroke="#1c1c1c" stroke-width="1.1"/><path d="M150,203.9 H184" fill="none" stroke="#1c1c1c" stroke-width="1.1"/><path d="M150,207.1 H184" fill="none" stroke="#1c1c1c" stroke-width="1.1"/><path d="M174.2,185.5 L177,164.9 H237.2 Q239.4,164.9 239.4,167.5 V180.5" fill="none" stroke="#1c1c1c" stroke-width="1.5"/><rect x="177.8" y="167.6" width="8.5" height="5.2" fill="none" stroke="#1c1c1c" stroke-width="1.0"/><rect x="187.2" y="167.6" width="7.6" height="5.2" fill="none" stroke="#1c1c1c" stroke-width="1.0"/><rect x="197.5" y="167.6" width="20.5" height="5.2" fill="none" stroke="#1c1c1c" stroke-width="1.0"/><rect x="221" y="167.6" width="7" height="5.2" fill="none" stroke="#1c1c1c" stroke-width="1.0"/><rect x="229.3" y="167.6" width="8" height="5.2" fill="none" stroke="#1c1c1c" stroke-width="1.0"/><path d="M175,173.6 H239.4" fill="none" stroke="#1c1c1c" stroke-width="1.1"/><path d="M197,176.6 H236" fill="none" stroke="#1c1c1c" stroke-width="1.0"/><rect x="176.3" y="174.6" width="5.6" height="9.4" fill="none" stroke="#1c1c1c" stroke-width="1.0"/><path d="M173.5,185.5 H183" fill="none" stroke="#1c1c1c" stroke-width="1.0"/><path d="M183.8,210.8 V181 L186.5,176.8 L189.2,181 V210.8 Z" fill="#e8e8e8" stroke="#1c1c1c" stroke-width="1.2"/><path d="M184.9,183 V209" fill="none" stroke="#1c1c1c" stroke-width="1.3"/><path d="M190,176 V211 M195.5,176 V211" fill="none" stroke="#1c1c1c" stroke-width="1.0"/><path d="M192.8,178 V208" stroke="#1c1c1c" stroke-width="1.8" stroke-dasharray="1.2 1.3"/><path d="M197.6,176.6 V208.6" fill="none" stroke="#1c1c1c" stroke-width="1.4"/><rect x="199.5" y="178.2" width="20.5" height="2.6" rx="0" fill="#2c2c2c"/><path d="M200.5,179.5h1.2M203.7,179.5h1.2M206.9,179.5h1.2M210.1,179.5h1.2M213.3,179.5h1.2M216.5,179.5h1.2" stroke="#b8b8b8" stroke-width="0.91" stroke-linecap="round"/><rect x="198.5" y="204.2" width="22.0" height="3.6" rx="0" fill="#2c2c2c"/><path d="M199.5,206.0h1.2M202.7,206.0h1.2M205.9,206.0h1.2M209.1,206.0h1.2M212.3,206.0h1.2M215.5,206.0h1.2M218.7,206.0h1.2" stroke="#b8b8b8" stroke-width="1.26" stroke-linecap="round"/><path d="M223,183 H211 V199.6 H219.4 V224" fill="none" stroke="#1c1c1c" stroke-width="1.1"/><path d="M223,185.4 H213.4 V197.3 H221.8 V224" fill="none" stroke="#1c1c1c" stroke-width="1.0"/><path d="M199.5,182 V203" fill="none" stroke="#1c1c1c" stroke-width="1.0"/><path d="M198.6,183 V203" stroke="#2c2c2c" stroke-width="1.8" stroke-dasharray="1.3 1.2"/><path d="M171,209.5 H221" fill="none" stroke="#1c1c1c" stroke-width="1.2"/><path d="M178,212.3 H196" fill="none" stroke="#1c1c1c" stroke-width="1.0"/><path d="M176.2,216.1 H217.5" fill="none" stroke="#1c1c1c" stroke-width="1.0"/><path d="M176.8,219.2 H217.5" fill="none" stroke="#1c1c1c" stroke-width="1.0"/><path d="M177,221.2 H217.5" fill="none" stroke="#1c1c1c" stroke-width="0.9"/><path d="M175.5,213.6 H217.5" fill="none" stroke="#1c1c1c" stroke-width="0.8"/><path d="M174.6,211 H196" fill="none" stroke="#1c1c1c" stroke-width="0.8"/><path d="M171,209.5 L175.9,223.6 H222" fill="none" stroke="#1c1c1c" stroke-width="1.3"/><path d="M217.6,209.5 V224" fill="none" stroke="#1c1c1c" stroke-width="1.1"/><path d="M220.2,198 V209.5" fill="none" stroke="#1c1c1c" stroke-width="1.3"/><path d="M170.6,208.6 H178 V210.5 L176,213.6 L174,210.5 H172" fill="none" stroke="#1c1c1c" stroke-width="1.0"/><path d="M232.3,180 H271.5" fill="none" stroke="#1c1c1c" stroke-width="1.3"/><path d="M234.5,183.4 H264.7 M234.5,187.8 H264.7 M236,192.2 H264.7" fill="none" stroke="#1c1c1c" stroke-width="0.9"/><path d="M242.4,183.4 V192.2" fill="none" stroke="#1c1c1c" stroke-width="1.0"/><path d="M252.5,183.4 V192.2" fill="none" stroke="#1c1c1c" stroke-width="1.0"/><path d="M236.6,183 V228 M239.8,192 V228" fill="none" stroke="#1c1c1c" stroke-width="1.0"/><path d="M265,180 V239 M268.3,180 V239" fill="none" stroke="#1c1c1c" stroke-width="1.0"/><rect x="239.8" y="193.6" width="22.19999999999999" height="2.2" rx="0" fill="#2c2c2c"/><path d="M240.8,194.7h1.2M244.0,194.7h1.2M247.2,194.7h1.2M250.4,194.7h1.2M253.6,194.7h1.2M256.8,194.7h1.2M260.0,194.7h1.2" stroke="#b8b8b8" stroke-width="0.77" stroke-linecap="round"/><rect x="240.5" y="220.3" width="23.899999999999977" height="4.8" rx="2" fill="#2c2c2c"/><path d="M241.6,222.7h1.2M245.0,222.7h1.2M248.4,222.7h1.2M251.8,222.7h1.2M255.2,222.7h1.2M258.6,222.7h1.2M262.0,222.7h1.2" stroke="#b8b8b8" stroke-width="1.68" stroke-linecap="round"/><path d="M239.8,226.8 H265 M218.5,230.2 H265" fill="none" stroke="#1c1c1c" stroke-width="1.0"/><path d="M220,237.6 H265" fill="none" stroke="#1c1c1c" stroke-width="1.0"/><path d="M233.5,230.2 V237.6" fill="none" stroke="#1c1c1c" stroke-width="1.1"/><path d="M252.4,230.2 V237.6" fill="none" stroke="#1c1c1c" stroke-width="1.1"/><path d="M216.8,228.4 L221.3,239.6 H268.7" fill="none" stroke="#1c1c1c" stroke-width="1.7"/><path d="M215.5,224.8 H222 M218.6,224.8 V228.4" fill="none" stroke="#1c1c1c" stroke-width="1.1"/><path d="M256.5,173.5 L263,167.8 L265.8,168.2 L267.5,172.6 L275,175.6 L272,179 L258,179 Z" fill="#303030"/><path d="M110.5,132.6 L216.00,132.60 Q218,132.6 219.46,133.97 L259.5,171.5" fill="none" stroke="#1c1c1c" stroke-width="1.8" stroke-linejoin="round"/><path d="M259.5,171.5 L251.6,168.2 L255.7,163.8 Z" fill="#1c1c1c"/><path d="M72,158.3 L202.00,158.30 Q204,158.3 205.51,159.62 L254,202" fill="none" stroke="#1c1c1c" stroke-width="1.8" stroke-linejoin="round"/><path d="M254.0,202.0 L240.6,196.1 L246.4,189.5 Z" fill="#1c1c1c"/><path d="M422.5,117.6 L353.00,117.60 Q350,117.6 348.15,119.96 L332.5,140" fill="none" stroke="#1c1c1c" stroke-width="1.8" stroke-linejoin="round"/><path d="M332.5,140.0 L336.9,128.2 L342.9,132.9 Z" fill="#1c1c1c"/><path d="M436.7,172.3 L388.00,172.30 Q385,172.3 382.28,173.56 L291.7,215.6" fill="none" stroke="#1c1c1c" stroke-width="1.8" stroke-linejoin="round"/><path d="M291.7,215.6 L301.0,207.1 L304.2,214.0 Z" fill="#1c1c1c"/><path d="M530,202.5 L387.00,202.50 Q384,202.5 381.29,203.78 L296,244" fill="none" stroke="#1c1c1c" stroke-width="1.8" stroke-linejoin="round"/><path d="M296.0,244.0 L305.2,235.4 L308.5,242.3 Z" fill="#1c1c1c"/><path d="M494.7,246.7 L387.40,246.70 Q384.4,246.7 381.69,248.00 L294.8,289.6" fill="none" stroke="#1c1c1c" stroke-width="1.8" stroke-linejoin="round"/><path d="M294.8,289.6 L304.0,281.0 L307.3,287.8 Z" fill="#1c1c1c"/><path d="M503.4,297.7 L386.00,297.70 Q383,297.7 380.29,298.99 L296,339" fill="none" stroke="#1c1c1c" stroke-width="1.8" stroke-linejoin="round"/><path d="M296.0,339.0 L305.2,330.4 L308.5,337.3 Z" fill="#1c1c1c"/><text x="205.74" y="43.90" font-size="19.3" font-weight="normal" font-style="normal" textLength="66.99" lengthAdjust="spacingAndGlyphs" fill="#1c1c1c" stroke="#1c1c1c" stroke-width="0.45" >СХЕМА</text><text x="288.42" y="43.90" font-size="19.3" font-weight="normal" font-style="normal" textLength="99.91" lengthAdjust="spacingAndGlyphs" fill="#1c1c1c" stroke="#1c1c1c" stroke-width="0.45" >МОНТАЖА</text><text x="69.24" y="65.80" font-size="19.3" font-weight="normal" font-style="normal" textLength="186.36" lengthAdjust="spacingAndGlyphs" fill="#1c1c1c" stroke="#1c1c1c" stroke-width="0.45" >ГИПСОКАРТОННЫХ</text><text x="262.62" y="65.80" font-size="19.3" font-weight="normal" font-style="normal" textLength="158.05" lengthAdjust="spacingAndGlyphs" fill="#1c1c1c" stroke="#1c1c1c" stroke-width="0.45" >(ПЛАСТИКОВЫХ)</text><text x="430.90" y="65.80" font-size="19.3" font-weight="normal" font-style="normal" textLength="93.91" lengthAdjust="spacingAndGlyphs" fill="#1c1c1c" stroke="#1c1c1c" stroke-width="0.45" >ОТКОСОВ</text><text x="114.94" y="126.00" font-size="15.8" font-weight="normal" font-style="normal" textLength="100.89" lengthAdjust="spacingAndGlyphs" fill="#1c1c1c" stroke="#1c1c1c" stroke-width="0.45" >ШТУКАТУРКА</text><text x="73.47" y="149.00" font-size="15.8" font-weight="normal" font-style="normal" textLength="124.36" lengthAdjust="spacingAndGlyphs" fill="#1c1c1c" stroke="#1c1c1c" stroke-width="0.45" >ОКОННАЯ РАМА</text><text x="365.02" y="111.00" font-size="15.8" font-weight="normal" font-style="normal" textLength="52.01" lengthAdjust="spacingAndGlyphs" fill="#1c1c1c" stroke="#1c1c1c" stroke-width="0.45" >СТЕНА</text><text x="388.75" y="168.00" font-size="15.8" font-weight="normal" font-style="normal" textLength="42.88" lengthAdjust="spacingAndGlyphs" fill="#1c1c1c" stroke="#1c1c1c" stroke-width="0.45" >ПЕНА</text><text x="388.73" y="195.00" font-size="15.8" font-weight="normal" font-style="normal" textLength="139.52" lengthAdjust="spacingAndGlyphs" fill="#1c1c1c" stroke="#1c1c1c" stroke-width="0.45" >ГИДРОИЗОЛЯЦИЯ</text><text x="388.68" y="239.00" font-size="15.8" font-weight="normal" font-style="normal" textLength="102.22" lengthAdjust="spacingAndGlyphs" fill="#1c1c1c" stroke="#1c1c1c" stroke-width="0.45" >УТЕПЛИТЕЛЬ</text><text x="388.95" y="294.00" font-size="15.8" font-weight="normal" font-style="normal" textLength="114.29" lengthAdjust="spacingAndGlyphs" fill="#1c1c1c" stroke="#1c1c1c" stroke-width="0.45" >ГИПСОКАРТОН</text><text x="409.75" y="315.00" font-size="15.8" font-weight="normal" font-style="normal" textLength="71.94" lengthAdjust="spacingAndGlyphs" fill="#1c1c1c" stroke="#1c1c1c" stroke-width="0.45" >ПЛАСТИК</text></svg>
</body></html>
